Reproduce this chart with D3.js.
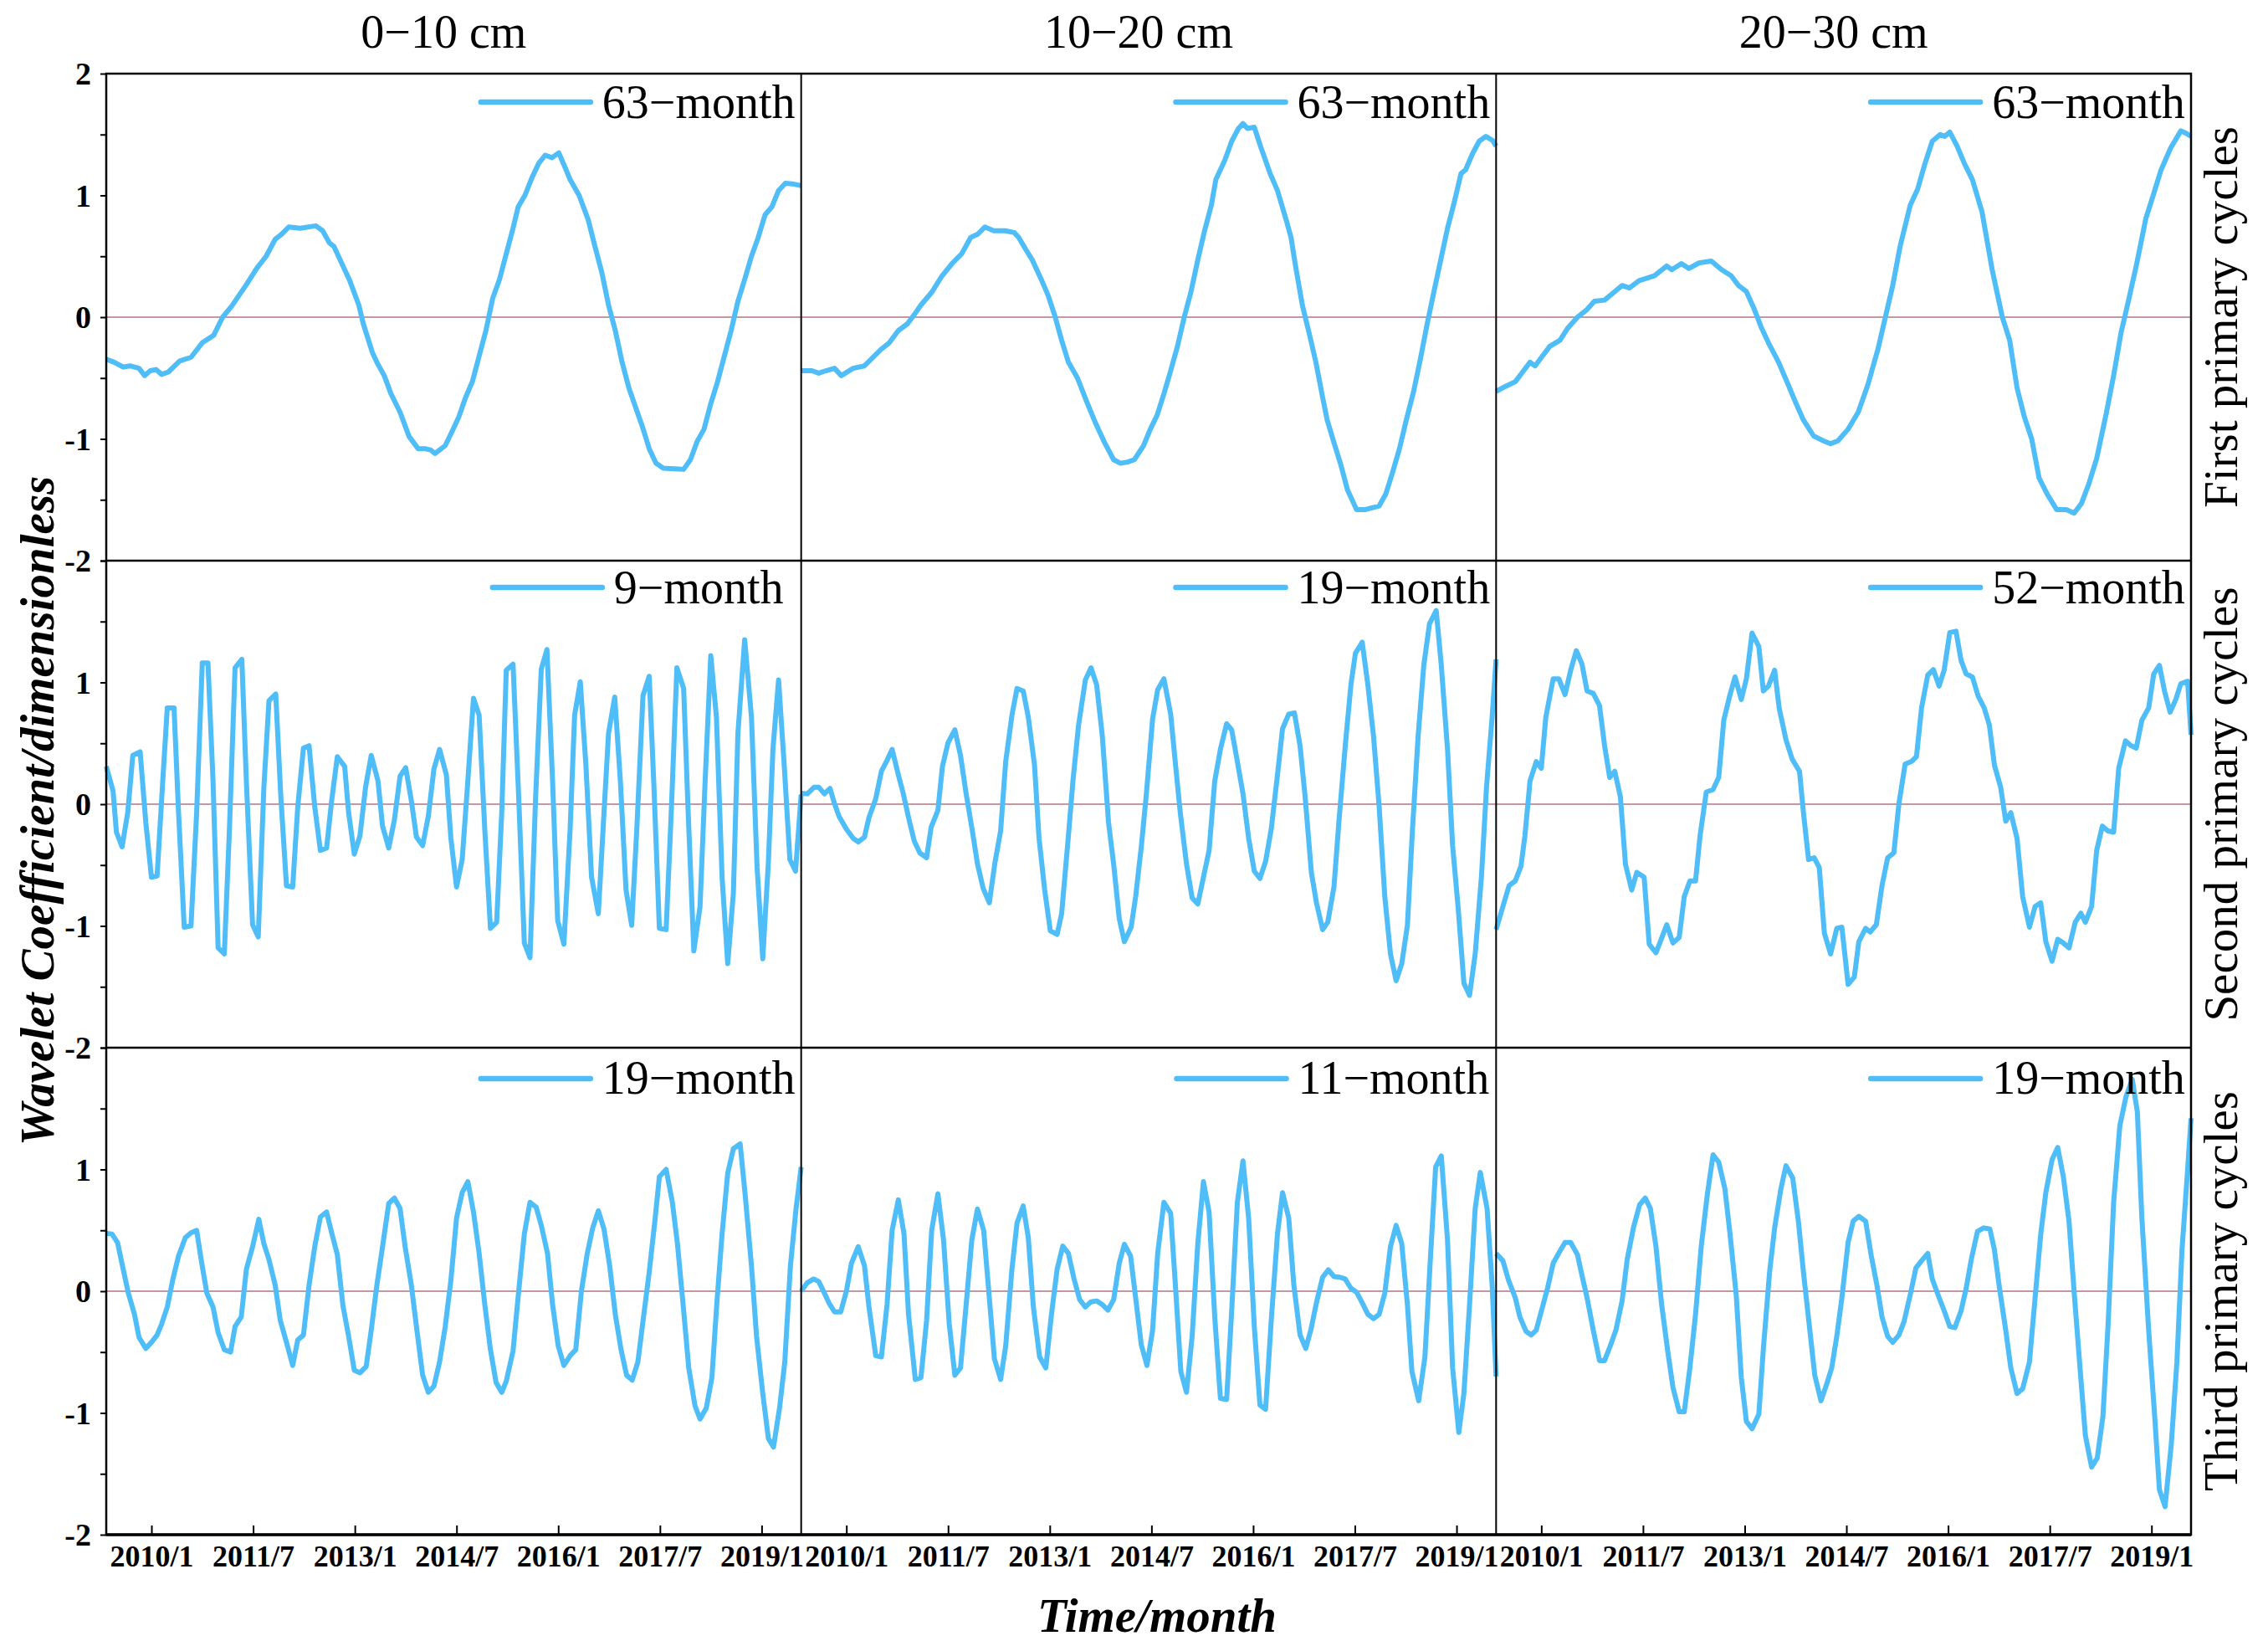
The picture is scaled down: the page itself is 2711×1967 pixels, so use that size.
<!DOCTYPE html>
<html>
<head>
<meta charset="utf-8">
<script src="https://cdn.jsdelivr.net/npm/d3@7"></script>
<style>
  html, body { margin: 0; padding: 0; background: #fff; }
  svg { display: block; }
  text { font-family: "Liberation Serif", "Times New Roman", serif; fill: #000; }
</style>
</head>
<body>
<svg id="chart" width="2711" height="1967"></svg>
<script>
// ---------------- DATA ----------------
const depthLabels = ["0\u221210 cm", "10\u221220 cm", "20\u221230 cm"];
const cycleLabels = ["First primary cycles", "Second primary cycles", "Third primary cycles"];
const periodRow1 = ["63\u2212month", "63\u2212month", "63\u2212month"];
const periodRow2 = ["9\u2212month", "19\u2212month", "52\u2212month"];
const periodRow3 = ["19\u2212month", "11\u2212month", "19\u2212month"];
const tickMonths = [8, 26, 44, 62, 80, 98, 116];          // month index from 2009/5
const tickLabels = ["2010/1", "2011/7", "2013/1", "2014/7", "2016/1", "2017/7", "2019/1"];
const yTickValues = [-2, -1.5, -1, -0.5, 0, 0.5, 1, 1.5, 2];
const monthDomain = [0, 123];
const valueDomain = [-2, 2];

// [month index, wavelet coefficient]
const r1c1 = [[0,-0.345],[1.4,-0.37],[3,-0.41],[4.2,-0.40],[5.8,-0.42],[6.8,-0.48],[7.8,-0.44],[8.8,-0.43],[9.8,-0.47],[11,-0.45],[13,-0.36],[15,-0.33],[17,-0.21],[19,-0.15],[20.6,0],[22.2,0.09],[24.7,0.26],[26.7,0.405],[28.3,0.5],[29.9,0.64],[31,0.68],[32.3,0.74],[34.3,0.73],[37.1,0.75],[38.3,0.71],[39.5,0.61],[40.3,0.58],[42.3,0.38],[43.1,0.30],[44.7,0.10],[45.5,-0.055],[47.1,-0.29],[47.9,-0.37],[49.2,-0.48],[50.4,-0.63],[52,-0.78],[53.6,-0.98],[55.2,-1.08],[56.4,-1.08],[57.4,-1.09],[58.2,-1.12],[60,-1.055],[61.2,-0.94],[62.4,-0.82],[63.6,-0.66],[64.8,-0.53],[66,-0.32],[67.2,-0.11],[68.4,0.155],[69.6,0.31],[70.8,0.52],[72,0.73],[72.9,0.905],[74.1,1.0],[75.3,1.14],[76.5,1.26],[77.7,1.33],[78.9,1.31],[80.1,1.35],[81.3,1.22],[82.1,1.13],[83.7,1.0],[85.3,0.80],[86.5,0.58],[87.7,0.37],[88.9,0.10],[90.1,-0.11],[91.3,-0.37],[92.5,-0.58],[93.7,-0.74],[94.9,-0.90],[96.1,-1.08],[97.3,-1.20],[98.6,-1.24],[100.6,-1.245],[102.2,-1.25],[103.4,-1.17],[104.6,-1.02],[105.8,-0.92],[107,-0.71],[108.2,-0.53],[109.4,-0.32],[110.6,-0.11],[111.8,0.13],[113,0.31],[114.2,0.50],[115.4,0.655],[116.6,0.84],[117.8,0.905],[119,1.04],[120.2,1.10],[121.4,1.095],[123,1.08]];
const r1c2 = [[0,-0.44],[1.9,-0.44],[3.1,-0.46],[4.4,-0.44],[5.9,-0.42],[7.1,-0.48],[9.2,-0.42],[11.2,-0.40],[12.4,-0.345],[14,-0.27],[15.6,-0.21],[17.2,-0.11],[18.8,-0.055],[20,0.02],[21.2,0.10],[23.2,0.21],[24.8,0.33],[26.8,0.445],[28.4,0.52],[30,0.655],[31.2,0.68],[32.5,0.74],[34.1,0.71],[36.1,0.71],[37.7,0.695],[38.5,0.655],[39.7,0.56],[40.9,0.47],[42.5,0.31],[43.7,0.18],[44.9,0.01],[46.1,-0.19],[47.3,-0.37],[48.9,-0.50],[50.5,-0.69],[52.1,-0.87],[53.7,-1.03],[55.3,-1.17],[56.5,-1.20],[57.8,-1.19],[59,-1.17],[60.6,-1.055],[61.8,-0.92],[63,-0.805],[64.2,-0.63],[65.4,-0.44],[66.6,-0.24],[67.8,0],[69,0.21],[70.2,0.47],[71.4,0.71],[72.6,0.92],[73.4,1.13],[75,1.29],[76.2,1.445],[77.4,1.55],[78.2,1.59],[79,1.55],[80.2,1.56],[81.4,1.39],[83,1.18],[84.3,1.04],[85.9,0.79],[86.7,0.655],[87.5,0.42],[88.7,0.10],[89.9,-0.13],[91.1,-0.37],[92.3,-0.66],[93.1,-0.845],[94.3,-1.03],[95.5,-1.21],[96.7,-1.42],[98.3,-1.58],[99.9,-1.58],[102.3,-1.55],[103.5,-1.45],[104.7,-1.27],[105.9,-1.08],[107.1,-0.845],[108.4,-0.61],[109.6,-0.345],[110.8,-0.055],[112,0.21],[113.2,0.47],[114.4,0.73],[115.6,0.945],[116.8,1.18],[117.6,1.21],[118.8,1.34],[120,1.445],[121.2,1.485],[122.4,1.45],[123,1.405]];
const r1c3 = [[0,-0.61],[1.6,-0.57],[3.4,-0.53],[4.7,-0.45],[6,-0.37],[6.9,-0.40],[8.2,-0.32],[9.5,-0.24],[11.3,-0.19],[12.6,-0.095],[14.4,0],[16.1,0.063],[17.4,0.13],[19.2,0.14],[21,0.21],[22.3,0.26],[23.6,0.24],[25.3,0.30],[28,0.34],[30.2,0.42],[31.1,0.39],[32.8,0.44],[34.1,0.40],[35.9,0.445],[38.1,0.46],[39.9,0.39],[41.6,0.34],[42.9,0.26],[44.3,0.21],[45.6,0.076],[46.9,-0.08],[48.2,-0.21],[50,-0.37],[51.7,-0.555],[53.1,-0.71],[54.4,-0.845],[56.2,-0.976],[57.9,-1.015],[59.2,-1.04],[60.5,-1.015],[62.3,-0.92],[64.1,-0.78],[65.8,-0.555],[67.6,-0.26],[68.9,0],[70.2,0.26],[71.5,0.58],[73.3,0.92],[74.6,1.05],[75.9,1.26],[77.2,1.445],[78.6,1.50],[79.4,1.485],[80.3,1.52],[81.6,1.405],[82.9,1.26],[84.3,1.13],[86,0.865],[87.8,0.39],[89.6,0],[90.9,-0.19],[92.2,-0.58],[93.5,-0.82],[94.8,-1.0],[96.1,-1.32],[97.5,-1.45],[99.2,-1.58],[100.9,-1.58],[102.3,-1.61],[103.6,-1.53],[104.9,-1.37],[106.3,-1.16],[108,-0.79],[109.3,-0.48],[110.6,-0.13],[111.9,0.13],[113.3,0.42],[115,0.81],[116.3,1.0],[117.7,1.21],[119.4,1.39],[121.2,1.53],[122.1,1.51],[123,1.485]];
const r2c1 = [[0,0.31],[1.2,0.11],[1.8,-0.23],[2.8,-0.35],[3.8,-0.07],[4.7,0.40],[6,0.43],[7,-0.15],[8,-0.60],[9,-0.59],[10,0.19],[10.8,0.79],[12,0.79],[12.8,-0.07],[13.8,-1.01],[15,-1.0],[16,-0.07],[17,1.16],[18,1.16],[18.9,0.19],[19.8,-1.18],[20.9,-1.23],[21.8,-0.21],[22.8,1.12],[24,1.19],[24.8,0.19],[25.9,-0.99],[26.9,-1.09],[27.9,0.14],[28.8,0.85],[30,0.905],[30.9,0.06],[31.9,-0.67],[33,-0.68],[33.9,-0.02],[34.9,0.46],[35.9,0.48],[36.9,-0.02],[37.9,-0.38],[39,-0.36],[39.9,0.03],[40.9,0.39],[42.2,0.31],[42.9,-0.07],[43.9,-0.41],[44.9,-0.26],[45.9,0.14],[46.9,0.40],[48.1,0.19],[48.9,-0.18],[50,-0.36],[51,-0.13],[52,0.23],[53,0.30],[54,0.03],[54.9,-0.27],[56,-0.34],[57,-0.10],[58,0.29],[59,0.45],[60.2,0.24],[61,-0.28],[62,-0.68],[63,-0.455],[64,0.19],[65,0.87],[66,0.73],[67,-0.21],[68,-1.02],[69.1,-0.97],[70,-0.07],[70.8,1.10],[72,1.15],[73,0.06],[74,-1.14],[75,-1.26],[76,0.06],[77,1.11],[78,1.27],[79,0.19],[79.9,-0.955],[81,-1.15],[82.1,-0.21],[82.9,0.73],[83.9,1.005],[84.9,0.32],[85.9,-0.60],[87.1,-0.90],[88.1,-0.07],[88.9,0.58],[90,0.88],[91,0.19],[92,-0.705],[93,-0.995],[93.9,-0.21],[95,0.89],[96.1,1.05],[96.9,0.19],[97.9,-1.02],[99.1,-1.03],[100,-0.07],[101,1.12],[102.2,0.95],[103,-0.07],[104,-1.205],[105.1,-0.84],[106,0.19],[107,1.22],[108,0.715],[109,-0.60],[110,-1.31],[111,-0.73],[111.8,0.58],[113,1.35],[114.2,0.715],[115.2,-0.52],[116.2,-1.27],[117.2,-0.47],[118,0.45],[119,1.02],[120,0.32],[121,-0.455],[122,-0.55],[123,0.08]];
const r2c2 = [[0,0.09],[1.1,0.085],[2.3,0.14],[3.1,0.14],[4.1,0.085],[5.1,0.13],[5.9,0.005],[6.7,-0.10],[8,-0.205],[9.2,-0.28],[10.1,-0.31],[11.2,-0.27],[12,-0.11],[13.2,0.045],[14.2,0.27],[15.2,0.36],[16.1,0.45],[17.2,0.24],[18,0.10],[19.2,-0.15],[20,-0.30],[21,-0.40],[22.2,-0.44],[23,-0.19],[24.2,-0.05],[25,0.31],[26,0.505],[27.2,0.61],[28.2,0.40],[29.2,0.085],[30.3,-0.22],[31.2,-0.49],[32.2,-0.69],[33.3,-0.81],[34.3,-0.48],[35.3,-0.22],[36.2,0.35],[37.3,0.73],[38.2,0.95],[39.3,0.93],[40.2,0.715],[41.3,0.32],[42.1,-0.28],[43.1,-0.705],[44.1,-1.04],[45.3,-1.07],[46.1,-0.90],[47.3,-0.26],[48.1,0.19],[49.1,0.65],[50.3,1.02],[51.3,1.12],[52.3,0.98],[53.3,0.56],[54.4,-0.15],[55.3,-0.49],[56.3,-0.94],[57.2,-1.13],[58.4,-1.01],[59.2,-0.76],[60.2,-0.35],[61.1,0.085],[62.2,0.70],[63.1,0.94],[64.2,1.03],[65.4,0.74],[66.2,0.35],[67.1,-0.07],[68.2,-0.49],[69.2,-0.77],[70.2,-0.82],[71.2,-0.60],[72.2,-0.38],[73.2,0.19],[74.2,0.45],[75.3,0.66],[76.2,0.61],[77.2,0.35],[78.2,0.085],[79.2,-0.28],[80.2,-0.55],[81.2,-0.61],[82.2,-0.47],[83.2,-0.205],[84.3,0.24],[85.2,0.62],[86.3,0.74],[87.3,0.75],[88.3,0.48],[89.2,0.06],[90.3,-0.56],[91.2,-0.81],[92.3,-1.03],[93.2,-0.97],[94.3,-0.68],[95.2,-0.13],[96.3,0.48],[97.3,0.98],[98.1,1.24],[99.3,1.33],[100.3,0.98],[101.3,0.56],[102.3,-0.02],[103.3,-0.76],[104.3,-1.23],[105.3,-1.45],[106.3,-1.31],[107.3,-0.995],[108.2,-0.205],[109.2,0.56],[110.2,1.14],[111.2,1.48],[112.4,1.59],[113.3,1.14],[114.4,0.45],[115.3,-0.34],[116.3,-0.86],[117.3,-1.47],[118.3,-1.57],[119.3,-1.23],[120.4,-0.60],[121.3,0.14],[122.3,0.715],[123,1.19]];
const r2c3 = [[0,-1.03],[1.2,-0.84],[2.3,-0.67],[3.4,-0.63],[4.4,-0.51],[5.1,-0.26],[6,0.19],[7.1,0.35],[8,0.295],[8.8,0.715],[10.1,1.03],[11.1,1.03],[12.2,0.90],[13.2,1.10],[14.2,1.26],[15.2,1.15],[16.1,0.93],[17.2,0.91],[18.3,0.81],[19.2,0.48],[20.1,0.22],[21,0.27],[22,0.06],[22.9,-0.495],[24,-0.705],[24.9,-0.56],[26.2,-0.60],[27.1,-1.15],[28.3,-1.22],[29.3,-1.10],[30.2,-0.99],[31.3,-1.14],[32.4,-1.095],[33.3,-0.76],[34.3,-0.63],[35.3,-0.63],[36.1,-0.26],[37.2,0.10],[38.4,0.12],[39.4,0.22],[40.3,0.69],[41.4,0.90],[42.3,1.045],[43.4,0.86],[44.3,1.03],[45.3,1.405],[46.5,1.295],[47.3,0.93],[48.2,0.97],[49.3,1.10],[50.1,0.79],[51.3,0.53],[52.4,0.37],[53.7,0.27],[54.4,-0.07],[55.3,-0.455],[56.3,-0.44],[57.2,-0.52],[58.1,-1.06],[59.2,-1.23],[60.3,-1.02],[61.2,-1.01],[62.3,-1.48],[63.4,-1.42],[64.2,-1.13],[65.4,-1.02],[66.2,-1.05],[67.3,-0.99],[68.3,-0.67],[69.3,-0.44],[70.4,-0.40],[71.3,0.005],[72.4,0.33],[73.5,0.35],[74.4,0.39],[75.3,0.79],[76.4,1.06],[77.4,1.105],[78.4,0.97],[79.3,1.10],[80.3,1.41],[81.4,1.42],[82.3,1.18],[83.2,1.07],[84.3,1.045],[85.3,0.89],[86.4,0.79],[87.3,0.65],[88.2,0.32],[89.3,0.14],[90.2,-0.14],[91.1,-0.07],[92.2,-0.28],[93.2,-0.76],[94.4,-1.01],[95.4,-0.84],[96.4,-0.81],[97.3,-1.13],[98.4,-1.29],[99.4,-1.11],[100.4,-1.14],[101.4,-1.18],[102.5,-0.97],[103.5,-0.895],[104.3,-0.97],[105.4,-0.84],[106.3,-0.38],[107.3,-0.18],[108.3,-0.22],[109.3,-0.23],[110.2,0.295],[111.4,0.52],[112.4,0.48],[113.3,0.46],[114.3,0.69],[115.5,0.79],[116.4,1.07],[117.4,1.14],[118.3,0.93],[119.3,0.755],[120.3,0.86],[121.2,0.99],[122.4,1.01],[123,0.57]];
const r3c1 = [[0,0.475],[1,0.47],[2,0.40],[3,0.18],[3.9,-0.015],[5,-0.19],[5.8,-0.38],[7,-0.47],[8,-0.42],[9,-0.36],[9.8,-0.27],[10.8,-0.13],[11.8,0.10],[12.8,0.29],[14,0.44],[15,0.48],[16,0.50],[16.8,0.26],[17.8,-0.015],[18.9,-0.13],[19.8,-0.34],[20.9,-0.48],[22,-0.50],[22.8,-0.29],[23.9,-0.21],[24.8,0.18],[25.9,0.365],[27,0.59],[27.9,0.39],[28.8,0.26],[29.9,0.05],[30.8,-0.24],[31.9,-0.42],[33,-0.61],[33.9,-0.40],[34.9,-0.36],[35.9,0.05],[36.9,0.365],[37.9,0.61],[39,0.65],[39.9,0.48],[40.9,0.30],[41.9,-0.12],[42.9,-0.37],[43.9,-0.65],[44.9,-0.67],[46,-0.62],[46.9,-0.32],[47.9,0.05],[48.9,0.365],[50,0.72],[51,0.765],[52,0.68],[52.9,0.365],[54,0.05],[54.9,-0.29],[56,-0.69],[57,-0.83],[58,-0.78],[59,-0.58],[60,-0.29],[61,0.09],[62,0.60],[63,0.81],[64,0.90],[65,0.65],[66,0.31],[67,-0.11],[68,-0.48],[69,-0.75],[70,-0.83],[70.8,-0.74],[72,-0.49],[73,0],[74,0.47],[75,0.73],[76.1,0.69],[77,0.54],[78.1,0.31],[79,-0.11],[80,-0.45],[81,-0.61],[82.1,-0.53],[83.1,-0.48],[84.1,0],[85.1,0.30],[86.1,0.52],[87.1,0.66],[88.1,0.51],[89.1,0.21],[90.1,-0.19],[91.1,-0.475],[92.1,-0.69],[93.1,-0.73],[94.1,-0.58],[95.1,-0.21],[96.1,0.155],[97.1,0.575],[97.9,0.94],[99.1,1.0],[100.2,0.73],[101.1,0.39],[102.2,-0.16],[103.1,-0.63],[104.2,-0.94],[105.1,-1.05],[106.2,-0.96],[107.2,-0.71],[108.1,-0.08],[109,0.47],[110,0.97],[111,1.17],[112.2,1.21],[113.1,0.785],[114.2,0.21],[115.1,-0.37],[116.2,-0.84],[117.2,-1.21],[118.1,-1.28],[119.2,-0.95],[120.1,-0.58],[121.1,0.21],[122.1,0.68],[123,1.02]];
const r3c2 = [[0,0.0],[1.1,0.07],[2.2,0.10],[3.1,0.08],[4.1,-0.015],[4.9,-0.095],[5.9,-0.17],[7,-0.17],[8,0],[8.9,0.23],[10.1,0.365],[11.2,0.21],[12,-0.13],[13.2,-0.53],[14.2,-0.54],[15.2,-0.11],[16.1,0.50],[17.2,0.75],[18.2,0.47],[19,-0.19],[20.2,-0.725],[21.2,-0.71],[22.2,-0.24],[23.1,0.50],[24.2,0.80],[25.2,0.42],[26.2,-0.265],[27.2,-0.69],[28.2,-0.63],[29.2,-0.11],[30.2,0.42],[31.2,0.675],[32.3,0.50],[33.3,-0.055],[34.2,-0.555],[35.3,-0.725],[36.2,-0.45],[37.3,0.18],[38.2,0.56],[39.3,0.70],[40.2,0.44],[41.1,-0.13],[42.2,-0.54],[43.3,-0.63],[44.3,-0.19],[45.3,0.18],[46.3,0.37],[47.3,0.31],[48.3,0.10],[49.3,-0.07],[50.3,-0.13],[51.3,-0.087],[52.3,-0.08],[53.3,-0.11],[54.3,-0.155],[55.3,-0.07],[56.3,0.23],[57.2,0.385],[58.3,0.29],[59.2,-0.055],[60.2,-0.44],[61.2,-0.61],[62.2,-0.32],[63.1,0.31],[64.2,0.73],[65.4,0.64],[66.2,0.076],[67.2,-0.66],[68.2,-0.83],[69.2,-0.37],[70.2,0.39],[71.2,0.90],[72.2,0.65],[73.2,-0.21],[74.2,-0.88],[75.3,-0.89],[76.2,-0.16],[77.2,0.73],[78.2,1.07],[79.2,0.60],[80.2,-0.29],[81.2,-0.935],[82.2,-0.97],[83.2,-0.24],[84.3,0.47],[85.2,0.81],[86.3,0.60],[87.2,0.05],[88.3,-0.36],[89.3,-0.47],[90.2,-0.32],[91.2,-0.095],[92.3,0.115],[93.3,0.175],[94.3,0.12],[95.3,0.115],[96.3,0.10],[97.3,0.024],[98.3,-0.008],[99.3,-0.095],[100.3,-0.19],[101.3,-0.225],[102.3,-0.19],[103.3,-0.015],[104.3,0.365],[105.3,0.54],[106.3,0.39],[107.3,-0.11],[108.1,-0.66],[109.3,-0.90],[110.4,-0.54],[111.3,0.21],[112.3,1.02],[113.3,1.11],[114.4,0.42],[115.3,-0.63],[116.4,-1.16],[117.3,-0.84],[118.3,-0.11],[119.3,0.68],[120.2,0.975],[121.4,0.68],[122.3,0.05],[123,-0.70]];
const r3c3 = [[0,0.31],[1.2,0.25],[2.2,0.09],[3.4,-0.055],[4.2,-0.21],[5.3,-0.33],[6.2,-0.36],[7.1,-0.32],[8.2,-0.13],[9.1,0.024],[10.1,0.23],[11.3,0.33],[12.2,0.40],[13.2,0.40],[14.4,0.30],[15.2,0.13],[16.1,-0.055],[17.2,-0.32],[18.3,-0.57],[19.2,-0.57],[20.2,-0.45],[21.2,-0.32],[22.3,-0.08],[23.2,0.26],[24.3,0.52],[25.4,0.71],[26.4,0.765],[27.3,0.68],[28.3,0.365],[29.3,-0.11],[30.4,-0.50],[31.3,-0.79],[32.4,-0.99],[33.3,-0.99],[34.3,-0.63],[35.3,-0.19],[36.3,0.365],[37.4,0.80],[38.4,1.12],[39.4,1.06],[40.5,0.84],[41.4,0.47],[42.5,-0.03],[43.4,-0.71],[44.3,-1.07],[45.3,-1.13],[46.5,-1.01],[47.3,-0.475],[48.4,0.155],[49.3,0.52],[50.4,0.84],[51.3,1.03],[52.5,0.93],[53.5,0.575],[54.4,0.155],[55.4,-0.265],[56.4,-0.69],[57.5,-0.90],[58.5,-0.765],[59.4,-0.63],[60.3,-0.37],[61.2,-0.055],[62.3,0.40],[63.2,0.575],[64.2,0.615],[65.4,0.575],[66.4,0.29],[67.4,0.05],[68.3,-0.21],[69.3,-0.37],[70.2,-0.42],[71.3,-0.36],[72.2,-0.25],[73.3,-0.03],[74.3,0.19],[75.3,0.25],[76.4,0.31],[77.2,0.10],[78.3,-0.04],[79.3,-0.16],[80.3,-0.29],[81.2,-0.30],[82.3,-0.16],[83.2,0.024],[84.1,0.26],[85.2,0.49],[86.3,0.52],[87.4,0.51],[88.2,0.34],[89.1,0.024],[90.2,-0.32],[91.1,-0.63],[92.2,-0.84],[93.2,-0.80],[94.4,-0.58],[95.4,-0.055],[96.4,0.47],[97.3,0.81],[98.4,1.08],[99.4,1.18],[100.4,0.94],[101.4,0.575],[102.3,0],[103.4,-0.66],[104.3,-1.185],[105.4,-1.445],[106.4,-1.37],[107.4,-1.03],[108.3,-0.29],[109.3,0.73],[110.4,1.36],[111.5,1.60],[112.6,1.74],[113.5,1.47],[114.3,0.60],[115.5,-0.32],[116.6,-1.05],[117.4,-1.63],[118.4,-1.77],[119.5,-1.26],[120.5,-0.58],[121.4,0.34],[122.4,1.0],[123,1.42]];

// ---------------- LAYOUT / STYLE ----------------
const series = [[r1c1, r1c2, r1c3], [r2c1, r2c2, r2c3], [r3c1, r3c2, r3c3]];
const periods = [periodRow1, periodRow2, periodRow3];
const plotL = 127, plotR = 2619, plotT = 88, plotB = 1834;
const colW = (plotR - plotL) / 3, rowH = (plotB - plotT) / 3;
const lineColor = "#4FBDF7";
const zeroColor = "#B07585";
const FONT = '"Liberation Serif", "Times New Roman", serif';
const legendLineOff = [34, 32, 37];
const legendTextOff = [53, 51, 55];

const svg = d3.select("#chart");
svg.append("rect").attr("width", 2711).attr("height", 1967).attr("fill", "#fff");

const lineGen = (x, y) => d3.line().x(d => x(d[0])).y(d => y(d[1]));

for (let i = 0; i < 3; i++) {
  for (let j = 0; j < 3; j++) {
    const x0 = plotL + j * colW, x1 = x0 + colW;
    const yTop = plotT + i * rowH, yBot = yTop + rowH;
    const x = d3.scaleLinear().domain(monthDomain).range([x0, x1]);
    const y = d3.scaleLinear().domain(valueDomain).range([yBot, yTop]);
    const g = svg.append("g");

    // zero reference line
    g.append("line")
      .attr("x1", x(monthDomain[0])).attr("x2", x(monthDomain[1]))
      .attr("y1", y(0)).attr("y2", y(0))
      .attr("stroke", zeroColor).attr("stroke-width", 1.5);

    // wavelet coefficient line
    g.append("path").datum(series[i][j])
      .attr("d", lineGen(x, y))
      .attr("fill", "none").attr("stroke", lineColor)
      .attr("stroke-width", 6).attr("stroke-linejoin", "round").attr("stroke-linecap", "butt");

    // legend (centred group near top right)
    const cx = x1 - 195;
    const lg = g.append("g");
    const txt = lg.append("text").text(periods[i][j])
      .attr("font-size", 56).attr("font-family", FONT);
    const tw = txt.node().getComputedTextLength();
    const total = 131 + 14 + tw;
    const left = cx - total / 2;
    lg.append("line")
      .attr("x1", left).attr("x2", left + 131)
      .attr("y1", yTop + legendLineOff[i]).attr("y2", yTop + legendLineOff[i])
      .attr("stroke", lineColor).attr("stroke-width", 6.5).attr("stroke-linecap", "round");
    txt.attr("x", left + 145).attr("y", yTop + legendTextOff[i]);

    // left axis (first column only)
    if (j === 0) {
      const ax = d3.axisLeft(y).tickValues(yTickValues).tickSize(7).tickPadding(11)
        .tickFormat(d => {
          if (!Number.isInteger(d)) return "";
          if (i > 0 && d === 2) return "";
          return d < 0 ? "-" + Math.abs(d) : String(d);
        });
      const ag = svg.append("g").attr("transform", `translate(${x0},0)`).call(ax);
      ag.select(".domain").remove();
      ag.selectAll(".tick line").attr("stroke", "#000").attr("stroke-width", 2);
      ag.selectAll(".tick text").attr("font-size", 38).attr("font-weight", "bold")
        .attr("font-family", FONT).attr("fill", "#000").attr("dy", "0.34em");
    }

    // bottom axis (last row only)
    if (i === 2) {
      const bx = d3.axisBottom(x).tickValues(tickMonths).tickSizeInner(-11).tickSizeOuter(0).tickPadding(12)
        .tickFormat((d, k) => tickLabels[k]);
      const bg = svg.append("g").attr("transform", `translate(0,${yBot})`).call(bx);
      bg.select(".domain").remove();
      bg.selectAll(".tick line").attr("stroke", "#000").attr("stroke-width", 2);
      bg.selectAll(".tick text").attr("font-size", 36).attr("font-weight", "bold")
        .attr("font-family", FONT).attr("fill", "#000");
    }
  }
}

// frames
const frame = svg.append("g").attr("stroke", "#000").attr("fill", "none");
frame.append("rect").attr("x", plotL).attr("y", plotT)
  .attr("width", plotR - plotL).attr("height", plotB - plotT).attr("stroke-width", 2.5);
frame.append("line").attr("x1", plotL).attr("x2", plotR)
  .attr("y1", plotB).attr("y2", plotB).attr("stroke-width", 3.5);
for (let k = 1; k < 3; k++) {
  frame.append("line").attr("x1", plotL + k * colW).attr("x2", plotL + k * colW)
    .attr("y1", plotT).attr("y2", plotB).attr("stroke-width", 2);
  frame.append("line").attr("x1", plotL).attr("x2", plotR)
    .attr("y1", plotT + k * rowH).attr("y2", plotT + k * rowH).attr("stroke-width", 2.5);
}

// column titles
depthLabels.forEach((t, j) => {
  svg.append("text").text(t)
    .attr("x", plotL + (j + 0.5) * colW - 12).attr("y", 57)
    .attr("text-anchor", "middle").attr("font-size", 56).attr("font-family", FONT);
});

// row labels on the right
cycleLabels.forEach((t, i) => {
  svg.append("text").text(t)
    .attr("transform", `translate(2674,${plotT + (i + 0.5) * rowH}) rotate(-90)`)
    .attr("text-anchor", "middle").attr("font-size", 57).attr("font-family", FONT);
});

// axis titles
svg.append("text").text("Wavelet Coefficient/dimensionless")
  .attr("transform", `translate(64,${(plotT + plotB) / 2 + 8}) rotate(-90)`)
  .attr("text-anchor", "middle").attr("font-size", 57).attr("font-weight", "bold")
  .attr("font-style", "italic").attr("font-family", FONT);
svg.append("text").text("Time/month")
  .attr("x", 1383).attr("y", 1950)
  .attr("text-anchor", "middle").attr("font-size", 57).attr("font-weight", "bold")
  .attr("font-style", "italic").attr("font-family", FONT);
</script>
</body>
</html>
